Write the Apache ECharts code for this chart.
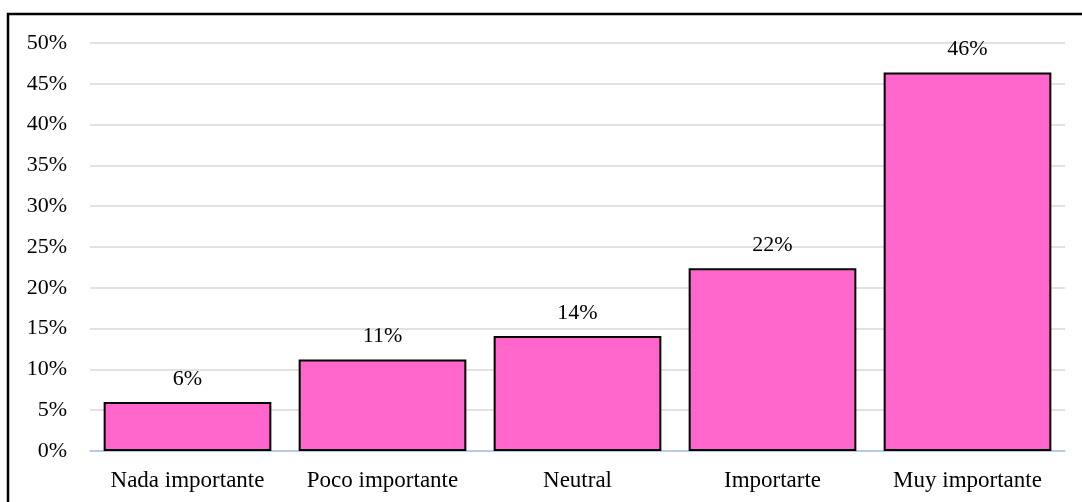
<!DOCTYPE html>
<html>
<head>
<meta charset="utf-8">
<script src="https://cdn.jsdelivr.net/npm/echarts@6/dist/echarts.min.js"></script>
<style>
html,body{margin:0;padding:0;background:#fff;}
#c{width:1082px;height:502px;}
</style>
</head>
<body>
<div id="c"></div>
<script>
var categories = ["Nada importante", "Poco importante", "Neutral", "Importarte", "Muy importante"];
var values = [6.0, 11.2, 14.1, 22.4, 46.4];
var yTicks = [0, 5, 10, 15, 20, 25, 30, 35, 40, 45, 50];

var chart = echarts.init(document.getElementById('c'), null, {renderer: 'canvas'});
var font = '"Liberation Serif", "Times New Roman", serif';
chart.setOption({
  animation: false,
  backgroundColor: '#fff',
  graphic: [{
    type: 'polyline',
    shape: {points: [[8, 520], [8, 14], [1090, 14]]},
    style: {stroke: '#000', lineWidth: 2.5, fill: null},
    silent: true
  }],
  grid: {left: 90, right: 17, top: 43, bottom: 51},
  xAxis: {
    type: 'category',
    data: categories,
    axisLine: {show: true, lineStyle: {color: '#a9c4e8', width: 1.5}},
    axisTick: {show: false},
    axisLabel: {color: '#000', fontFamily: font, fontSize: 23, margin: 18, interval: 0}
  },
  yAxis: {
    type: 'value',
    min: yTicks[0],
    max: yTicks[yTicks.length - 1],
    interval: 5,
    axisLine: {show: false},
    axisTick: {show: false},
    splitLine: {lineStyle: {color: '#d9d9d9', width: 1.5}},
    axisLabel: {color: '#000', fontFamily: font, fontSize: 22, margin: 23,
      formatter: function (v) { return v + '%'; }}
  },
  series: [{
    type: 'bar',
    data: values,
    barWidth: '86%',
    itemStyle: {color: '#ff66cc', borderColor: '#000', borderWidth: 2},
    label: {
      show: true, position: 'top', distance: 12,
      color: '#000', fontFamily: font, fontSize: 22,
      formatter: function (p) { return Math.round(p.value) + '%'; }
    }
  }]
});
</script>
</body>
</html>
